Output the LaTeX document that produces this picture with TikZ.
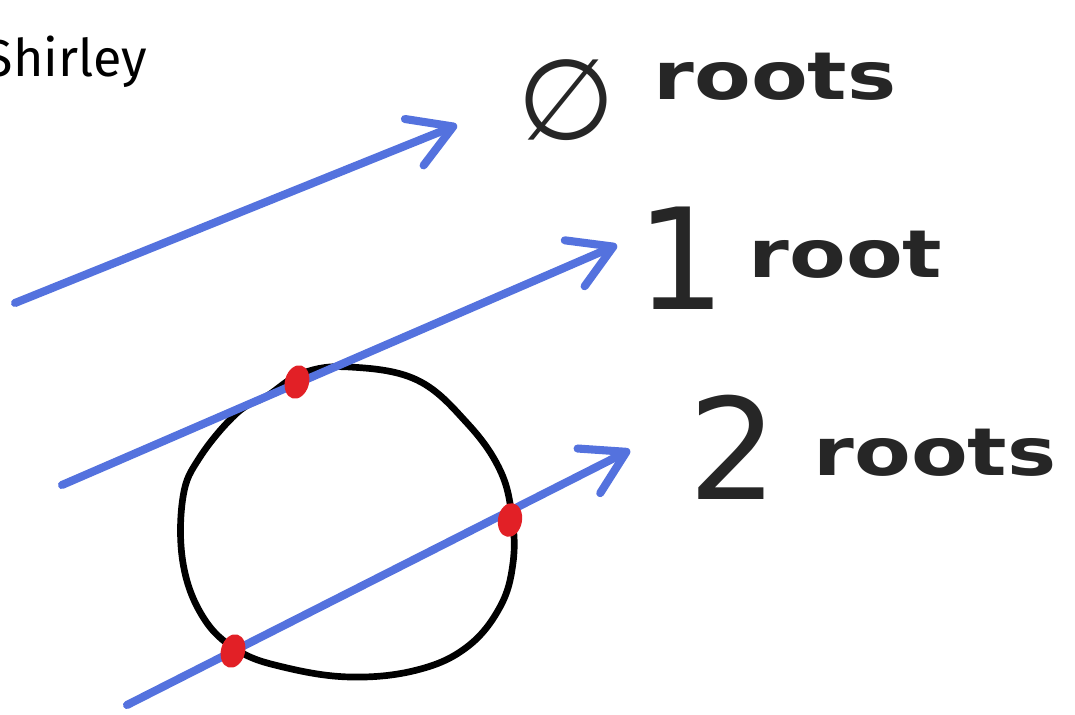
\documentclass[tikz,border=0pt]{standalone}
\usepackage{fontspec}
\usepackage{xcolor}
\usepackage{tikz}
\usetikzlibrary{arrows.meta, shapes.geometric, positioning}

\newfontfamily\namefont{Fira Sans}
\newfontfamily\handfont[FakeStretch=1.25]{DejaVu Sans}
\newfontfamily\digitfont{DejaVu Sans}

\definecolor{raycol}{RGB}{84,114,222}
\definecolor{dotcol}{RGB}{226,32,38}

\begin{document}
\begin{tikzpicture}[
    x=0.01cm, y=-0.01cm,
    % Define styles for the text
    name_node/.style={inner sep=0pt, font=\namefont\fontsize{14.8pt}{18pt}\selectfont},
    word_node/.style={inner sep=0pt, text=black!85, font=\handfont\bfseries\fontsize{18.8pt}{22pt}\selectfont},
    digit_node/.style={inner sep=0pt, text=black!85, font=\digitfont\fontsize{40pt}{44pt}\selectfont},
    % Styles for rays, circle and roots
    ray/.style={raycol, line width=2.3pt, line cap=round, -{Straight Barb[round, length=0.42cm, width=0.5cm]}},
    circle_line/.style={black, line width=1.9pt},
    root_dot/.style={ellipse, fill=dotcol, minimum width=0.24cm, minimum height=0.34cm, inner sep=0pt}
]
    \useasboundingbox (0,0) rectangle (1075,715);

    % =========================================================================
    % TITLE (cut at the left edge)
    % =========================================================================
    \begin{scope}
        \clip (0,0) rectangle (1075,715);
        \node (title) [name_node, anchor=base east] at (148,77) {Shirley};
    \end{scope}

    % =========================================================================
    % CIRCLE
    % =========================================================================
    \draw [circle_line] plot [smooth cycle, tension=0.65] coordinates {
        (303,373) (350,367) (417,380) (467,423) (500,470) (512,517)
        (513,563) (500,607) (467,647) (417,670) (350,677) (283,667)
        (237,650) (203,617) (183,563) (183,497) (200,457) (237,413) (267,396)};

    % =========================================================================
    % RAYS
    % =========================================================================
    \coordinate (ray_a_start) at (15,303);
    \coordinate (ray_a_tip) at (457,125);
    \coordinate (ray_b_start) at (62,485);
    \coordinate (ray_b_tip) at (617,245);
    \coordinate (ray_c_start) at (127,705);
    \coordinate (ray_c_tip) at (630,450);

    \draw [ray] (ray_a_start) -- (ray_a_tip);
    \draw [ray] (ray_b_start) -- (ray_b_tip);
    \draw [ray] (ray_c_start) -- (ray_c_tip);

    % Roots where the rays meet the circle
    \node (root_tangent) [root_dot, rotate=-15] at (297,382) {};
    \node (root_right) [root_dot, rotate=-10] at (510,520) {};
    \node (root_left) [root_dot, rotate=-15] at (233,651) {};

    % =========================================================================
    % LABELS
    % =========================================================================
    \node (zero_sym) [digit_node, font=\digitfont\fontsize{32pt}{36pt}\selectfont] at (567,100) {∅};
    \node (zero_word) [word_node, anchor=base west] at (653,100) {roots};

    \node (one_sym) [digit_node, anchor=south] at (681,310) {1};
    \node (one_word) [word_node, anchor=base west] at (748,277) {root};

    \node (two_sym) [digit_node, anchor=south] at (733,500) {2};
    \node (two_word) [word_node, anchor=base west] at (813,475) {roots};

\end{tikzpicture}
\end{document}
